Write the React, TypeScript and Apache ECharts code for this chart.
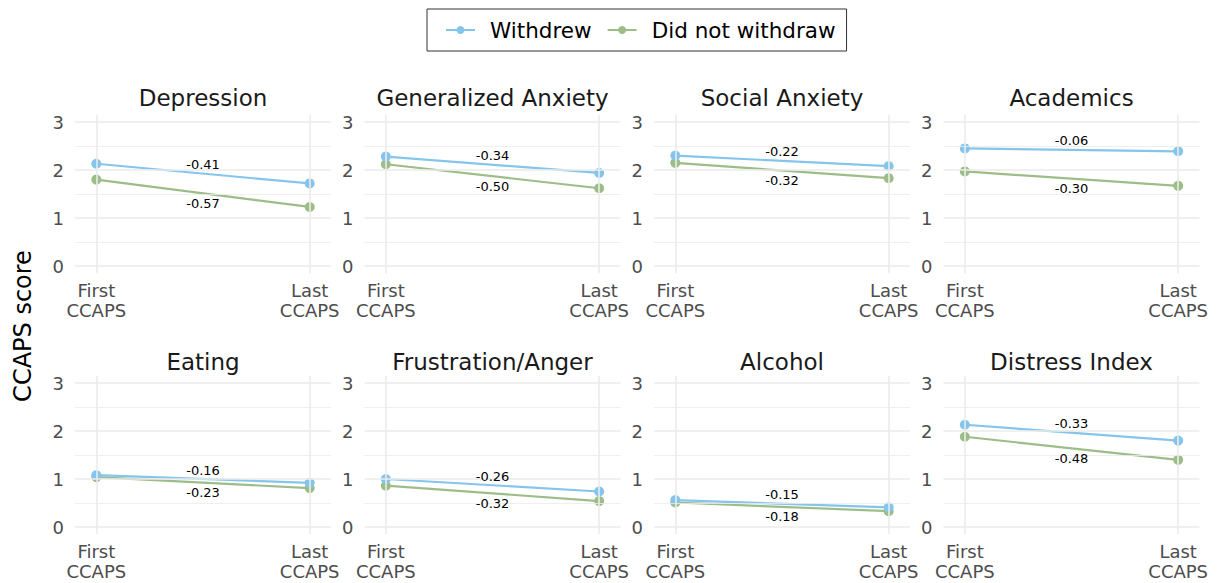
import React, { useEffect, useRef } from "react";
import * as echarts from "echarts";

// CCAPS subscales, one facet each (two rows of four)
const SUBSCALES = [
  "Depression",
  "Generalized Anxiety",
  "Social Anxiety",
  "Academics",
  "Eating",
  "Frustration/Anger",
  "Alcohol",
  "Distress Index",
];

// Mean scores at first and last CCAPS administration
const WITHDREW_FIRST = [2.13, 2.28, 2.3, 2.45, 1.08, 1.0, 0.56, 2.13];
const WITHDREW_LAST = [1.72, 1.94, 2.08, 2.39, 0.92, 0.74, 0.41, 1.8];
const STAYED_FIRST = [1.8, 2.12, 2.15, 1.97, 1.04, 0.86, 0.51, 1.88];
const STAYED_LAST = [1.23, 1.62, 1.83, 1.67, 0.81, 0.54, 0.33, 1.4];

const TIME_LABELS = ["First\nCCAPS", "Last\nCCAPS"];
const Y_TICKS = [0, 1, 2, 3];
const Y_MINOR = [0.5, 1.5, 2.5];
const GROUPS = ["Withdrew", "Did not withdraw"];

const BLUE = "#86c5eb";
const GREEN = "#9dbd88";
const GRID_COLOR = "#ebebeb";
const FONT = "DejaVu Sans";

// facet geometry (pixels)
const PANEL_LEFTS = [75, 364.5, 654, 943.5];
const PANEL_TOPS = [114.8, 375.8];
const PANEL_W = 256;
const PANEL_H = 158.4;
const Y_MIN = -0.15;
const Y_MAX = 3.15;

const fmtDiff = (a: number, b: number) => (Math.round((b - a) * 100) / 100).toFixed(2);

function buildOption() {
  const grid: any[] = [];
  const xAxis: any[] = [];
  const yAxis: any[] = [];
  const series: any[] = [];
  const graphic: any[] = [];

  SUBSCALES.forEach((name, i) => {
    const row = Math.floor(i / 4);
    const col = i % 4;
    const left = PANEL_LEFTS[col];
    const top = PANEL_TOPS[row];

    grid.push({ left, top, width: PANEL_W, height: PANEL_H, containLabel: false });

    xAxis.push({
      gridIndex: i,
      type: "value",
      min: -0.1,
      max: 1.1,
      axisLine: { show: false },
      axisTick: { show: false },
      splitLine: { show: false },
      axisLabel: {
        customValues: [0, 1],
        formatter: (v: number) => (Math.abs(v) < 1e-6 ? TIME_LABELS[0] : TIME_LABELS[1]),
        fontFamily: FONT,
        fontSize: 18,
        lineHeight: 20,
        color: "#4d4d4d",
        margin: 7,
        align: "center",
      },
    });

    yAxis.push({
      gridIndex: i,
      type: "value",
      min: Y_MIN,
      max: Y_MAX,
      axisLine: { show: false },
      axisTick: { show: false },
      splitLine: { show: false },
      axisLabel: {
        customValues: Y_TICKS,
        formatter: (v: number) => String(Math.round(v)),
        fontFamily: FONT,
        fontSize: 18,
        color: "#4d4d4d",
        margin: 11,
      },
    });

    // panel grid lines
    series.push({
      type: "line",
      xAxisIndex: i,
      yAxisIndex: i,
      data: [],
      silent: true,
      z: 1,
      markLine: {
        silent: true,
        symbol: "none",
        animation: false,
        label: { show: false },
        emphasis: { disabled: true },
        data: [
          ...Y_TICKS.map((v) => ({ yAxis: v, lineStyle: { color: GRID_COLOR, width: 1.6, type: "solid" } })),
          ...Y_MINOR.map((v) => ({ yAxis: v, lineStyle: { color: GRID_COLOR, width: 0.8, type: "solid" } })),
          ...[0, 1].map((x) => [
            { coord: [x, Y_MIN], lineStyle: { color: GRID_COLOR, width: 1.6, type: "solid" } },
            { coord: [x, Y_MAX] },
          ]),
        ],
      },
    });

    const groupData = [
      { name: GROUPS[1], color: GREEN, first: STAYED_FIRST[i], last: STAYED_LAST[i], z: 3, dy: 10 },
      { name: GROUPS[0], color: BLUE, first: WITHDREW_FIRST[i], last: WITHDREW_LAST[i], z: 4, dy: -9 },
    ];

    groupData.forEach((g) => {
      series.push({
        name: g.name,
        type: "line",
        xAxisIndex: i,
        yAxisIndex: i,
        data: [
          [0, g.first],
          [1, g.last],
        ],
        symbol: "circle",
        symbolSize: 10,
        lineStyle: { color: g.color, width: 2.2 },
        itemStyle: { color: g.color },
        z: g.z,
        silent: true,
      });
      // change label at the segment midpoint
      series.push({
        name: "change-" + g.name + "-" + i,
        type: "scatter",
        xAxisIndex: i,
        yAxisIndex: i,
        symbolSize: 1,
        itemStyle: { color: "rgba(0,0,0,0)", opacity: 1 },
        silent: true,
        z: 5,
        data: [
          {
            value: [0.5, (g.first + g.last) / 2],
            label: {
              show: true,
              position: "inside",
              offset: [0, g.dy],
              formatter: fmtDiff(g.first, g.last),
              fontFamily: FONT,
              fontSize: 13,
              color: "#000",
              opacity: 1,
            },
          },
        ],
      });
    });

    graphic.push({
      type: "text",
      x: left + PANEL_W / 2,
      y: row === 0 ? 97.7 : 361.5,
      style: {
        text: name,
        fontFamily: FONT,
        fontSize: 23,
        fill: "#1a1a1a",
        align: "center",
        verticalAlign: "middle",
      },
    });
  });

  graphic.push({
    type: "text",
    x: 23,
    y: 326,
    rotation: Math.PI / 2,
    style: {
      text: "CCAPS score",
      fontFamily: FONT,
      fontSize: 24,
      fill: "#000",
      align: "center",
      verticalAlign: "middle",
    },
  });

  return {
    animation: false,
    backgroundColor: "#fff",
    textStyle: { fontFamily: FONT },
    legend: {
      data: GROUPS,
      left: 427,
      top: 9,
      orient: "horizontal",
      borderColor: "#333",
      borderWidth: 1,
      padding: [10, 11, 10, 18],
      itemWidth: 29,
      itemHeight: 10,
      itemGap: 15,
      selectedMode: false,
      textStyle: { fontFamily: FONT, fontSize: 21.5, color: "#000", padding: [0, 0, 0, 10] },
    },
    grid,
    xAxis,
    yAxis,
    series,
    graphic,
  };
}

export default function App() {
  const ref = useRef<HTMLDivElement>(null);
  useEffect(() => {
    document.body.style.margin = "0";
    if (!ref.current) return;
    const chart = echarts.init(ref.current, null, { renderer: "svg" });
    chart.setOption(buildOption() as any);
    return () => chart.dispose();
  }, []);
  return <div ref={ref} style={{ width: 1219, height: 583 }} />;
}
